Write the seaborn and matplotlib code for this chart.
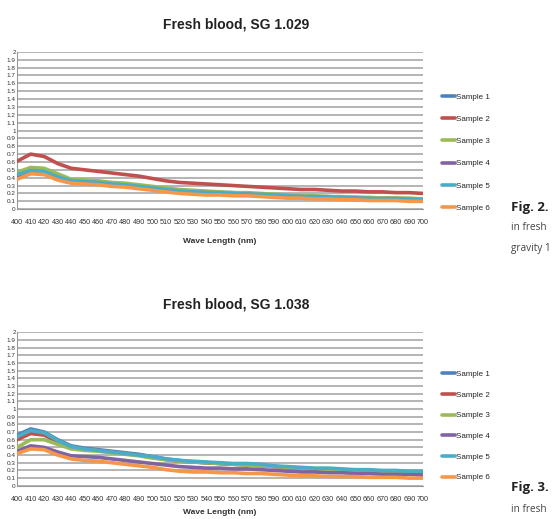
import numpy as np
import pandas as pd
import seaborn as sns
import matplotlib.pyplot as plt

# --- Data ---
wavelength = list(range(400, 701, 10))
samples = ["Sample 1", "Sample 2", "Sample 3", "Sample 4", "Sample 5", "Sample 6"]
colors = ["#4F81BD", "#C0504D", "#9BBB59", "#8064A2", "#4BACC6", "#F79646"]

# Fresh blood, SG 1.029
sg1029_s1 = [0.42, 0.50, 0.50, 0.43, 0.37, 0.36, 0.35, 0.33, 0.32, 0.30, 0.28, 0.26, 0.24, 0.23, 0.22, 0.21,
             0.21, 0.20, 0.19, 0.18, 0.17, 0.17, 0.16, 0.16, 0.15, 0.15, 0.14, 0.14, 0.14, 0.13, 0.13]
sg1029_s2 = [0.61, 0.70, 0.67, 0.58, 0.52, 0.50, 0.48, 0.46, 0.44, 0.42, 0.39, 0.36, 0.34, 0.33, 0.32, 0.31,
             0.30, 0.29, 0.28, 0.27, 0.26, 0.25, 0.25, 0.24, 0.23, 0.23, 0.22, 0.22, 0.21, 0.21, 0.20]
sg1029_s3 = [0.47, 0.53, 0.52, 0.45, 0.38, 0.37, 0.36, 0.34, 0.33, 0.31, 0.29, 0.27, 0.25, 0.24, 0.23, 0.22,
             0.21, 0.21, 0.20, 0.19, 0.18, 0.17, 0.17, 0.16, 0.16, 0.15, 0.15, 0.14, 0.14, 0.14, 0.13]
sg1029_s4 = [0.40, 0.47, 0.47, 0.40, 0.35, 0.34, 0.33, 0.31, 0.30, 0.28, 0.26, 0.24, 0.22, 0.21, 0.21, 0.20,
             0.19, 0.19, 0.18, 0.17, 0.16, 0.16, 0.15, 0.15, 0.14, 0.14, 0.13, 0.13, 0.13, 0.12, 0.12]
sg1029_s5 = [0.44, 0.49, 0.48, 0.41, 0.36, 0.35, 0.34, 0.32, 0.31, 0.29, 0.27, 0.25, 0.23, 0.22, 0.21, 0.21,
             0.20, 0.19, 0.19, 0.18, 0.17, 0.16, 0.16, 0.15, 0.15, 0.14, 0.14, 0.13, 0.13, 0.13, 0.12]
sg1029_s6 = [0.38, 0.45, 0.44, 0.37, 0.33, 0.32, 0.31, 0.29, 0.28, 0.26, 0.24, 0.22, 0.20, 0.19, 0.18, 0.18,
             0.17, 0.17, 0.16, 0.15, 0.14, 0.14, 0.13, 0.13, 0.12, 0.12, 0.11, 0.11, 0.11, 0.10, 0.10]

# Fresh blood, SG 1.038
sg1038_s1 = [0.66, 0.74, 0.70, 0.60, 0.52, 0.49, 0.47, 0.45, 0.43, 0.41, 0.38, 0.35, 0.33, 0.31, 0.30, 0.29,
             0.28, 0.28, 0.27, 0.25, 0.24, 0.23, 0.22, 0.22, 0.21, 0.20, 0.20, 0.19, 0.19, 0.18, 0.18]
sg1038_s2 = [0.60, 0.68, 0.66, 0.57, 0.50, 0.48, 0.46, 0.44, 0.42, 0.40, 0.37, 0.34, 0.32, 0.31, 0.30, 0.29,
             0.28, 0.27, 0.26, 0.25, 0.24, 0.23, 0.22, 0.21, 0.21, 0.20, 0.19, 0.19, 0.18, 0.18, 0.17]
sg1038_s3 = [0.50, 0.60, 0.60, 0.54, 0.48, 0.46, 0.45, 0.43, 0.41, 0.39, 0.36, 0.34, 0.32, 0.31, 0.30, 0.29,
             0.28, 0.27, 0.26, 0.25, 0.24, 0.23, 0.22, 0.21, 0.21, 0.20, 0.19, 0.19, 0.18, 0.18, 0.17]
sg1038_s4 = [0.45, 0.52, 0.50, 0.44, 0.39, 0.38, 0.37, 0.35, 0.33, 0.31, 0.29, 0.27, 0.25, 0.24, 0.23, 0.23,
             0.22, 0.22, 0.21, 0.20, 0.19, 0.18, 0.18, 0.17, 0.17, 0.16, 0.16, 0.15, 0.15, 0.15, 0.14]
sg1038_s5 = [0.64, 0.72, 0.69, 0.59, 0.51, 0.48, 0.46, 0.44, 0.42, 0.40, 0.38, 0.35, 0.33, 0.32, 0.31, 0.30,
             0.29, 0.29, 0.28, 0.26, 0.25, 0.24, 0.23, 0.23, 0.22, 0.21, 0.21, 0.20, 0.20, 0.19, 0.19]
sg1038_s6 = [0.42, 0.48, 0.47, 0.40, 0.35, 0.33, 0.32, 0.30, 0.28, 0.26, 0.24, 0.21, 0.19, 0.18, 0.18, 0.17,
             0.17, 0.16, 0.16, 0.15, 0.14, 0.13, 0.13, 0.12, 0.12, 0.12, 0.11, 0.11, 0.11, 0.10, 0.10]

y_ticks = [round(v * 0.1, 1) for v in range(0, 21)]
y_tick_labels = ["0" if v == 0 else ("1" if v == 1 else ("2" if v == 2 else str(v))) for v in y_ticks]


def make_frame(series):
    df = pd.DataFrame({"Wave Length (nm)": wavelength})
    for name, vals in zip(samples, series):
        df[name] = vals
    return df.melt(id_vars="Wave Length (nm)", var_name="Sample", value_name="Absorbance")


sns.set_style("white")
plt.rcParams["font.family"] = ["Liberation Sans", "DejaVu Sans"]

fig = plt.figure(figsize=(5.52, 5.19), dpi=100)

# title, series, axes rect, legend centre (axes frac), legend spacing,
# x label pad, caption label, caption lines, caption y (px)
panels = [
    ("Fresh blood, SG 1.029",
     [sg1029_s1, sg1029_s2, sg1029_s3, sg1029_s4, sg1029_s5, sg1029_s6],
     [0.031, 0.597, 0.735, 0.303], 0.36, 1.8, 9, "Fig. 2.", ["in fresh", "gravity 1"], 207),
    ("Fresh blood, SG 1.038",
     [sg1038_s1, sg1038_s2, sg1038_s3, sg1038_s4, sg1038_s5, sg1038_s6],
     [0.031, 0.064, 0.735, 0.296], 0.39, 1.62, 5, "Fig. 3.", ["in fresh"], 488),
]

H = 519.0
for title, series, rect, leg_y, leg_sp, xpad, fig_label, caption, cap_y in panels:
    ax = fig.add_axes(rect)
    df = make_frame(series)
    sns.lineplot(data=df, x="Wave Length (nm)", y="Absorbance", hue="Sample",
                 palette=colors, linewidth=2.6, ax=ax, legend=True, zorder=3)

    ax.set_xlim(400, 700)
    ax.set_ylim(0, 2)
    ax.set_xticks(wavelength)
    ax.set_xticklabels([str(w) for w in wavelength], fontsize=5.2, color="#333333")
    ax.set_yticks(y_ticks)
    ax.set_yticklabels(y_tick_labels, fontsize=4.6, color="#333333")
    ax.yaxis.grid(True, color="#b4b4b4", linewidth=1.4)
    ax.xaxis.grid(False)
    ax.tick_params(axis="x", direction="out", length=3, color="#999999", pad=4)
    ax.tick_params(axis="y", length=0, pad=1)
    for side in ["top", "right"]:
        ax.spines[side].set_visible(False)
    ax.spines["left"].set_color("#999999")
    ax.spines["bottom"].set_color("#999999")
    ax.set_ylabel("")
    ax.set_xlabel("Wave Length (nm)", fontsize=6, fontweight="bold", color="#333333", labelpad=xpad)
    ax.set_title(title, fontsize=10, fontweight="bold", color="#222222", pad=17, x=0.54)

    sns.move_legend(ax, "center left", bbox_to_anchor=(1.03, leg_y), frameon=False,
                    title=None, fontsize=5.8, labelspacing=leg_sp, handlelength=1.6,
                    handletextpad=0.1)
    for line in ax.get_legend().get_lines():
        line.set_linewidth(2.6)

    # figure caption on the right (cut off by the page edge)
    x0 = 0.926
    fig.text(x0, 1 - cap_y / H, fig_label, fontsize=9.5, fontweight="bold",
             color="#222222", family=["Open Sans", "DejaVu Sans"], va="center")
    for i, line in enumerate(caption):
        fig.text(x0, 1 - (cap_y + 21 * (i + 1)) / H, line, fontsize=7.2, color="#444444",
                 family=["Open Sans", "DejaVu Sans"], va="center")

fig.savefig("out.png", dpi=100)
